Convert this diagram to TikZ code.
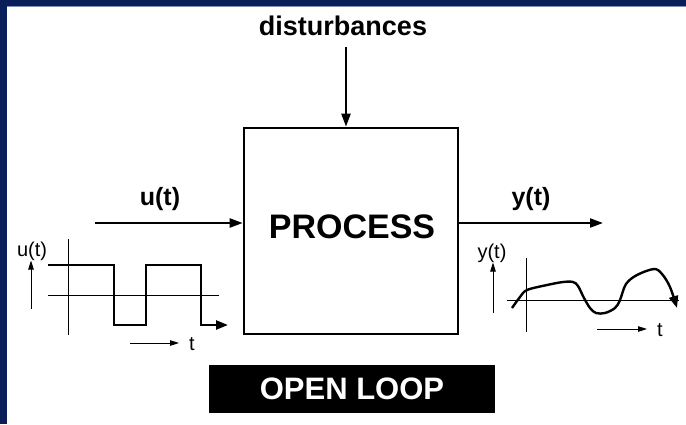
\documentclass[tikz,border=0pt]{standalone}
\usepackage{fontspec}
\setmainfont{Liberation Sans}
\usetikzlibrary{arrows.meta}
\definecolor{navy}{RGB}{10,30,90}
\definecolor{navyedge}{RGB}{130,145,185}

\begin{document}
\begin{tikzpicture}[x=1pt,y=-1pt,
  bigarrow/.style={line width=2.2pt,-{Triangle[length=13pt,width=9pt]}},
  axisline/.style={line width=0.9pt},
  smallarrow/.style={line width=0.9pt,-{Triangle[length=9pt,width=5.5pt]}},
  signal/.style={line width=2.4pt,line join=miter},
  signaltip/.style={-{Triangle[length=12pt,width=9pt]}},
  biglabel/.style={font=\bfseries\fontsize{25}{25}\selectfont},
  smalllabel/.style={font=\fontsize{20}{20}\selectfont},
]
\useasboundingbox (0,0) rectangle (686,424);
% frame bands
\fill[navy] (0,0) rectangle (686,6);
\fill[navyedge] (7,6) rectangle (686,7);
\fill[navy] (0,0) rectangle (7,424);

% process block
\node[draw, line width=2.6pt, minimum width=214pt, minimum height=206pt, inner sep=0pt] (proc) at (351,231) {};
\node[font=\bfseries\fontsize{34}{34}\selectfont, inner sep=0pt] (proctext) at (352,227) {PROCESS};

% disturbance input
\node[font=\bfseries\fontsize{27}{27}\selectfont, inner sep=0pt] (dist) at (343,26) {disturbances};
\coordinate (dtop) at (346,47);
\draw[bigarrow] (dtop) -- (dtop |- proc.north);

% input and output signals
\coordinate (uin) at (95,223);
\coordinate (yout) at (603,223);
\draw[bigarrow] (uin) -- (uin -| proc.west);
\draw[bigarrow] (yout -| proc.east) -- (yout);
\node[biglabel] (ulab) at (160,199) {u(t)};
\node[biglabel] (ylab) at (531,199) {y(t)};

% input plot: square wave
\draw[axisline] (68,239) -- (68,335);
\draw[axisline] (48,295) -- (219,295);
\draw[signal, signaltip] (48,265) -- (114,265) -- (114,325) -- (146,325) -- (146,265) -- (201,265) -- (201,325) -- (228,325);
\node[smalllabel, inner sep=0pt] (uax) at (32,251) {u(t)};
\coordinate (uarrowfoot) at (31,309);
\draw[smallarrow] (uarrowfoot) -- (uax.south -| uarrowfoot);
\node[smalllabel, inner sep=0pt] (utime) at (192,344) {t};
\coordinate (utimefoot) at (130,343);
\draw[smallarrow] (utimefoot) -- (179,343);

% output plot: response curve
\draw[axisline] (526,258) -- (526,332);
\draw[axisline] (507,300) -- (679,300);
\draw[signal, line join=round, signaltip] plot[smooth, tension=0.55] coordinates {
  (512,308) (520,297) (527,290) (547,285) (563,282) (573,282) (578,286)
  (584,298) (590,308) (596,313) (605,313) (615,308) (620,300)
  (626,284) (637,275) (654,269) (662,274) (670,287) (677,308)};
\node[smalllabel, inner sep=0pt] (yax) at (492,253) {y(t)};
\coordinate (yarrowfoot) at (493,313);
\draw[smallarrow] (yarrowfoot) -- (yax.south -| yarrowfoot);
\node[smalllabel, inner sep=0pt] (ytime) at (660,330) {t};
\coordinate (ytimefoot) at (597,329);
\draw[smallarrow] (ytimefoot) -- (647,329);

% caption box
\node[fill=black, text=white, minimum width=286pt, minimum height=48pt, inner sep=0pt,
  font=\bfseries\fontsize{31}{31}\selectfont] (loop) at (352,389) {OPEN LOOP};
\end{tikzpicture}
\end{document}
